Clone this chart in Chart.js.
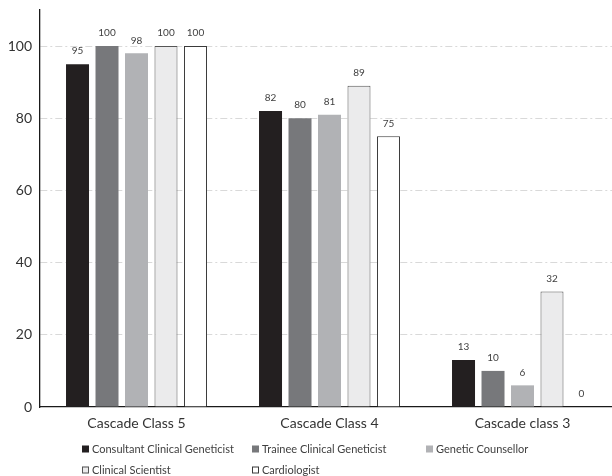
<!DOCTYPE html>
<html>
<head>
<meta charset="utf-8">
<script src="https://cdn.jsdelivr.net/npm/chart.js@4/dist/chart.umd.min.js"></script>
<style>
  html, body { margin: 0; padding: 0; background: #fff; overflow: hidden; }
  #wrap { width: 619px; height: 476px; position: relative; }
</style>
</head>
<body>
<div id="wrap"><canvas id="barChart"></canvas></div>
<script>
const categories = ['Cascade Class 5', 'Cascade Class 4', 'Cascade class 3'];
const consultantData = [95, 82, 13];
const traineeData = [100, 80, 10];
const counsellorData = [98, 81, 6];
const scientistData = [100, 89, 32];
const cardiologistData = [100, 75, 0];
const yTicks = [0, 20, 40, 60, 80, 100];

const FONT = 'Lato, "Open Sans", sans-serif';

// value labels above each bar
const barLabels = {
  id: 'barLabels',
  afterDatasetsDraw(chart) {
    const ctx = chart.ctx;
    ctx.save();
    ctx.font = '10px ' + FONT;
    ctx.fillStyle = '#404040';
    ctx.textAlign = 'center';
    ctx.textBaseline = 'middle';
    chart.data.datasets.forEach((ds, i) => {
      chart.getDatasetMeta(i).data.forEach((bar, j) => {
        ctx.fillText(ds.data[j], bar.x, bar.y - 13);
      });
    });
    ctx.restore();
  }
};

// legend laid out in columns like the original
const gridLegend = {
  id: 'gridLegend',
  afterDraw(chart) {
    const ctx = chart.ctx;
    const cols = [82, 252, 426];
    const rows = [449, 470];
    ctx.save();
    ctx.font = '11px ' + FONT;
    ctx.textBaseline = 'middle';
    ctx.textAlign = 'left';
    chart.data.datasets.forEach((ds, i) => {
      const x = cols[i % 3];
      const y = rows[Math.floor(i / 3)];
      ctx.fillStyle = ds.backgroundColor;
      ctx.fillRect(x, y - 3.5, 7, 7);
      if (ds.borderWidth) {
        ctx.strokeStyle = ds.borderColor;
        ctx.lineWidth = 1;
        ctx.strokeRect(x + 0.5, y - 3, 6, 6);
      }
      ctx.fillStyle = '#404040';
      ctx.fillText(ds.label, x + 10, y);
    });
    ctx.restore();
  }
};

new Chart(document.getElementById('barChart'), {
  type: 'bar',
  data: {
    labels: categories,
    datasets: [
      { label: 'Consultant Clinical Geneticist', data: consultantData, backgroundColor: '#231f20', borderWidth: 0 },
      { label: 'Trainee Clinical Geneticist', data: traineeData, backgroundColor: '#77787b', borderWidth: 0 },
      { label: 'Genetic Counsellor', data: counsellorData, backgroundColor: '#b1b2b5', borderWidth: 0 },
      { label: 'Clinical Scientist', data: scientistData, backgroundColor: '#ebebec', borderColor: '#555555', borderWidth: 1 },
      { label: 'Cardiologist', data: cardiologistData, backgroundColor: '#ffffff', borderColor: '#3a3a3a', borderWidth: 1 }
    ]
  },
  options: {
    responsive: true,
    maintainAspectRatio: false,
    animation: false,
    categoryPercentage: 0.764,
    barPercentage: 0.78,
    layout: { padding: { top: 10, right: 0, left: 0, bottom: 0 } },
    plugins: {
      legend: { display: false },
      tooltip: { enabled: false }
    },
    scales: {
      x: {
        grid: { display: false },
        border: { display: true, color: '#1a1a1a', width: 1.3 },
        ticks: {
          color: '#333333',
          font: { family: FONT, size: 14 },
          padding: 0,
          maxRotation: 0
        },
        afterFit: (axis) => { axis.height = 69; }
      },
      y: {
        min: 0,
        max: 110,
        grid: {
          color: (c) => (c.tick && c.tick.value === 0 ? 'rgba(0,0,0,0)' : '#d9d9d9'),
          drawTicks: false,
          lineWidth: 1
        },
        border: { display: true, color: '#1a1a1a', width: 1.3, dash: [7, 3, 2, 3] },
        ticks: {
          color: '#333333',
          font: { family: FONT, size: 14 },
          padding: 8
        },
        afterBuildTicks: (axis) => { axis.ticks = yTicks.map(v => ({ value: v })); },
        afterFit: (axis) => { axis.width = 40; axis.paddingTop = 0; axis.paddingBottom = 0; }
      }
    }
  },
  plugins: [barLabels, gridLegend]
});
</script>
</body>
</html>
